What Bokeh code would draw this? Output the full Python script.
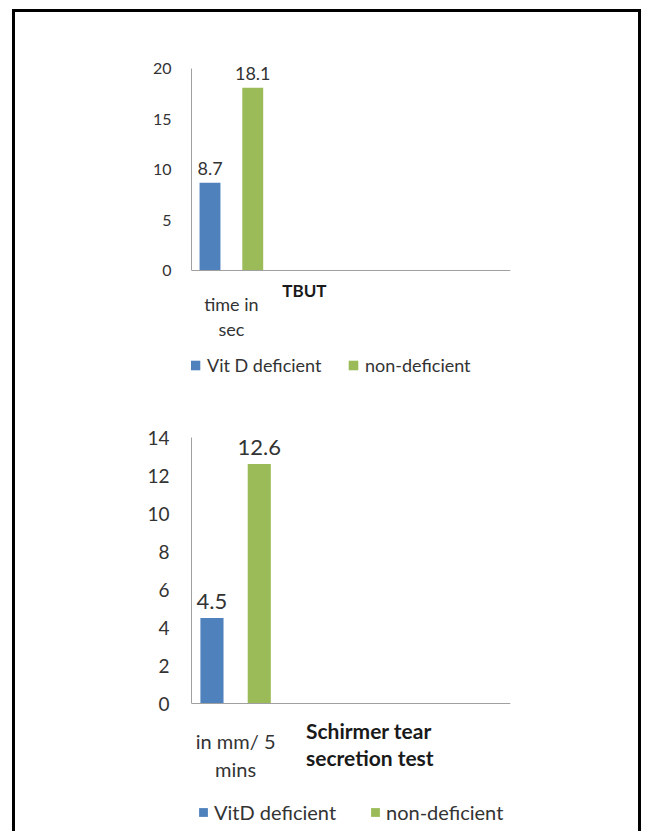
from bokeh.plotting import figure
from bokeh.layouts import column
from bokeh.models import (Range1d, ColumnDataSource, LabelSet, Label, Legend,
                          LegendItem, FixedTicker, Span)
from bokeh.core.properties import value
from bokeh.embed import file_html
from bokeh.resources import INLINE

# --- data -------------------------------------------------------------
series_names_tbut = ["Vit D deficient", "non-deficient"]
tbut_values = [8.7, 18.1]            # tear break-up time, seconds
tbut_category = ["time in", "sec"]
tbut_title = "TBUT"

series_names_schirmer = ["VitD deficient", "non-deficient"]
schirmer_values = [4.5, 12.6]        # mm wetting in 5 minutes
schirmer_category = ["in mm/ 5", "mins"]
schirmer_title = ["Schirmer tear", "secretion test"]

y_ticks_tbut = [0, 5, 10, 15, 20]
y_ticks_schirmer = [0, 2, 4, 6, 8, 10, 12, 14]

colors = ["#4F81BD", "#9BBB59"]
FONT = "Lato"
TEXT = "#333333"
BOLD_TEXT = "#1a1a1a"
AXIS = "#a0a0a0"

CAT_CENTER = 0.5
DODGE = 0.268
BAR_W = 0.262


def make_chart(values, names, yticks, yaxis_max, xmax, width, height,
               left, top, frame_w, px_per_unit, zero_from_top,
               tick_size, value_size, value_gap, standoff, legend_spec):
    # frame runs from `top` to the bottom edge of the figure; the space
    # under the baseline holds the category text and the legend
    y_hi = (zero_from_top - top) / px_per_unit
    y_lo = -(height - zero_from_top) / px_per_unit
    p = figure(width=width, height=height,
               x_range=Range1d(0, xmax), y_range=Range1d(y_lo, y_hi),
               output_backend="svg", toolbar_location=None,
               min_border_left=left, min_border_right=width - left - frame_w,
               min_border_top=top, min_border_bottom=0,
               background_fill_color="white", border_fill_color="white")
    p.outline_line_color = None
    p.grid.visible = False
    p.xaxis.visible = False

    xs = [CAT_CENTER - DODGE, CAT_CENTER + DODGE]
    src = ColumnDataSource(dict(x=xs, top=values,
                                label=[f"{v:.1f}" for v in values]))
    for i in range(len(values)):
        p.vbar(x=[xs[i]], top=[values[i]], width=BAR_W, bottom=0,
               fill_color=colors[i], line_color=None)

    p.add_layout(LabelSet(x="x", y="top", text="label", source=src,
                          y_offset=value_gap, text_align="center",
                          text_baseline="bottom",
                          text_font=value(FONT),
                          text_font_size=value(f"{value_size}px"),
                          text_color=value(TEXT)))

    # category baseline at zero
    p.add_layout(Span(location=0, dimension="width", line_color=AXIS,
                      line_width=1))

    # value axis, its line limited to the tick span
    yax = p.yaxis[0]
    yax.ticker = FixedTicker(ticks=yticks)
    yax.bounds = (0, yaxis_max)
    yax.axis_line_color = AXIS
    yax.major_tick_line_color = None
    yax.minor_tick_line_color = None
    yax.major_tick_out = 0
    yax.major_tick_in = 0
    yax.major_label_standoff = standoff
    yax.major_label_text_font = FONT
    yax.major_label_text_font_size = f"{tick_size}px"
    yax.major_label_text_color = TEXT

    # legend, one box per series; hidden square markers give the swatches
    leg_y, leg_xs, leg_size, leg_box = legend_spec
    for i in range(len(values)):
        swatch = p.scatter(x=[xs[i]], y=[values[i]], marker="square",
                           fill_color=colors[i], line_color=None,
                           visible=False)
        lg = Legend(items=[LegendItem(label=names[i], renderers=[swatch])],
                    location=(leg_xs[i], leg_y), orientation="horizontal",
                    padding=0, margin=0, spacing=0,
                    glyph_width=leg_box, glyph_height=leg_box,
                    label_standoff=0,
                    label_text_font=FONT,
                    label_text_font_size=f"{leg_size}px",
                    label_text_color=TEXT,
                    inactive_fill_alpha=0,
                    border_line_color=None, background_fill_alpha=0)
        p.add_layout(lg, "center")
    return p


def text_below(p, x, dy, txt, size, bold=False, align="center"):
    p.add_layout(Label(x=x, y=0, y_offset=-dy, text=txt,
                       text_align=align, text_baseline="middle",
                       text_font=FONT, text_font_size=f"{size}px",
                       text_font_style="bold" if bold else "normal",
                       text_color=BOLD_TEXT if bold else TEXT))


# --- TBUT chart --------------------------------------------------------
p1 = make_chart(tbut_values, series_names_tbut, y_ticks_tbut, 20, 4.0,
                width=623, height=383, left=173, top=46, frame_w=322,
                px_per_unit=10.1, zero_from_top=258,
                tick_size=16, value_size=18, value_gap=8, standoff=20,
                legend_spec=(18, (-8, 150), 18, 24))
text_below(p1, CAT_CENTER, 33, tbut_category[0], 18)
text_below(p1, CAT_CENTER, 58, tbut_category[1], 18)
text_below(p1, 1.416, 20, tbut_title, 17, bold=True)

# --- Schirmer chart ----------------------------------------------------
p2 = make_chart(schirmer_values, series_names_schirmer, y_ticks_schirmer, 14,
                329 / 91, width=623, height=436, left=176, top=30,
                frame_w=329, px_per_unit=19.0, zero_from_top=308,
                tick_size=19, value_size=22, value_gap=9, standoff=22,
                legend_spec=(7, (1, 173), 20, 22))
text_below(p2, CAT_CENTER, 37, schirmer_category[0], 20)
text_below(p2, CAT_CENTER, 65, schirmer_category[1], 20)
for k, line in enumerate(schirmer_title):
    text_below(p2, 1.297, 27 + 27 * k, line, 21, bold=True, align="left")

layout = column(p1, p2, margin=(9, 0, 0, 12),
                styles={"border-left": "3px solid black",
                        "border-top": "3px solid black",
                        "border-right": "3px solid black"})

open("out.html", "w").write(file_html(layout, INLINE))
